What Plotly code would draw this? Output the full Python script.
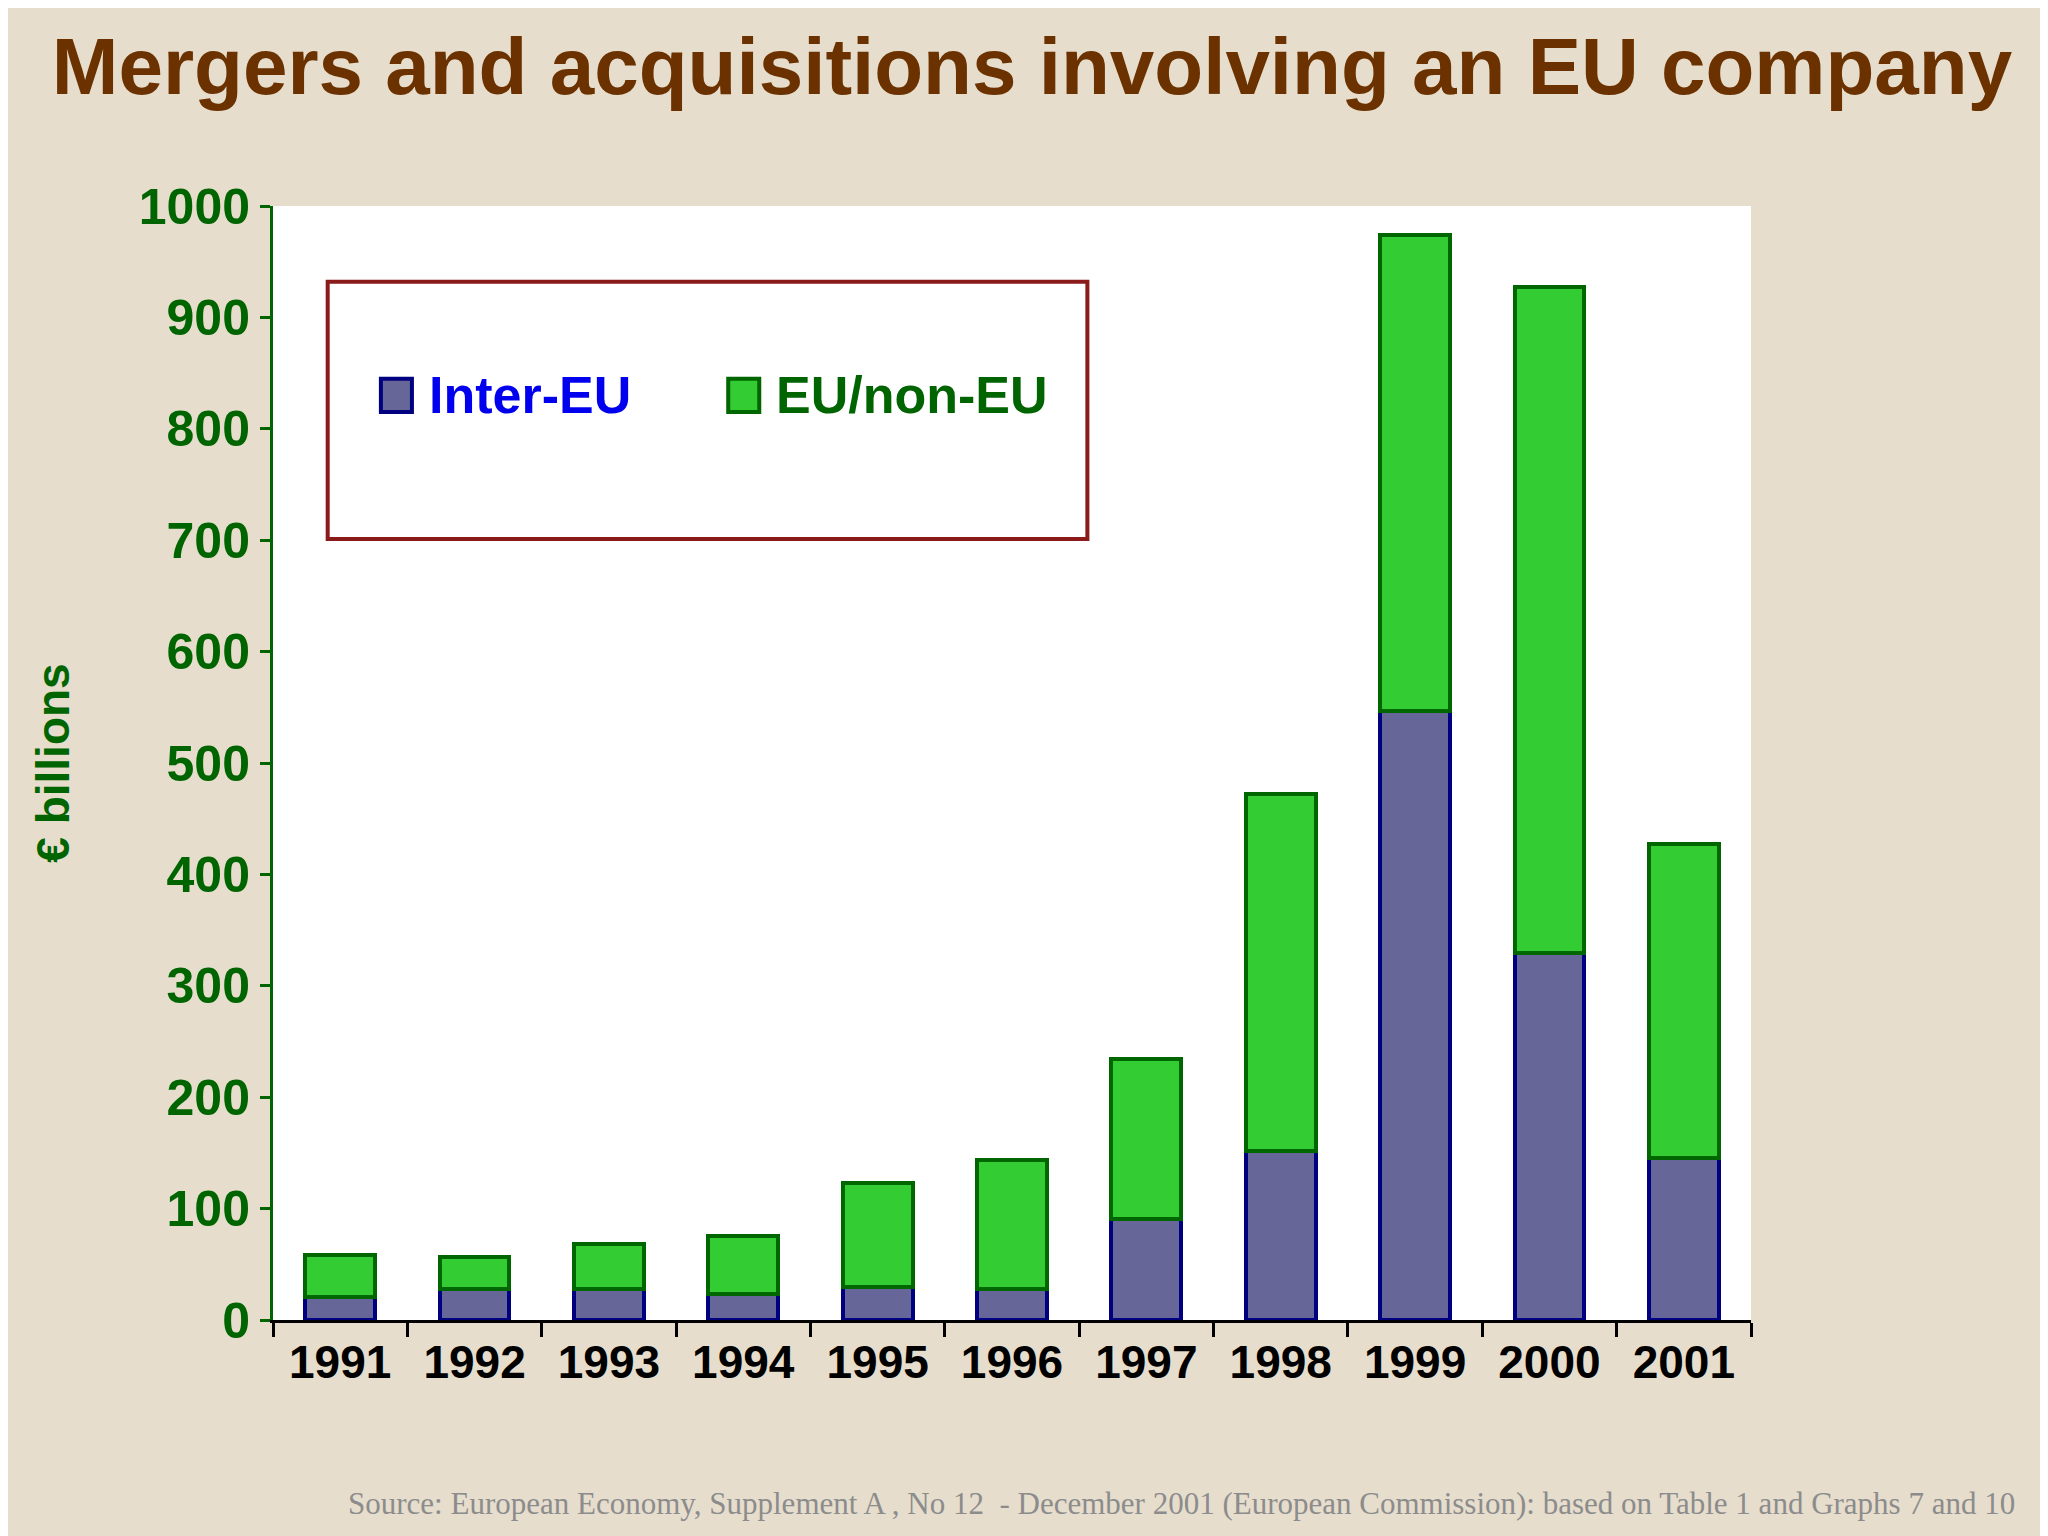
import plotly.graph_objects as go

years = ["1991","1992","1993","1994","1995","1996","1997","1998","1999","2000","2001"]
inter_eu = [21, 28, 28, 23, 30, 28, 91, 152, 547, 329, 145]
totals = [58, 57, 68, 75, 123, 144, 234, 472, 974, 927, 427]
eu_non_eu = [t - i for t, i in zip(totals, inter_eu)]

fig = go.Figure()
fig.add_bar(x=years, y=inter_eu, name="Inter-EU", marker=dict(color="#666699", line=dict(color="#000080", width=4)), width=0.52)
fig.add_bar(x=years, y=eu_non_eu, name="EU/non-EU", marker=dict(color="#33cc33", line=dict(color="#006600", width=4)), width=0.52)

fig.update_layout(
    barmode="stack", showlegend=False,
    width=2048, height=1536,
    margin=dict(l=265, r=305, t=198, b=224),
    paper_bgcolor="#e6ddcc", plot_bgcolor="white",
    font=dict(family="Liberation Sans, Arial", color="#006400"),
    title=dict(text="<b>Mergers and acquisitions involving an EU company</b>", x=0.5, xanchor="center", y=0.962, yanchor="middle",
               font=dict(size=80, color="#6b3200")),
    xaxis=dict(showline=True, linecolor="black", linewidth=3, ticks="outside", tickson="boundaries", ticklen=14,
               tickwidth=3, tickcolor="black", tickfont=dict(size=46, color="black"),
               tickprefix="<b>", ticksuffix="</b>"),
    yaxis=dict(range=[0, 1000], dtick=100, showgrid=False, showline=True, linecolor="#006400", linewidth=3,
               ticks="outside", ticklen=10, tickwidth=3, tickcolor="#006400",
               tickfont=dict(size=50, color="#006400"), tickprefix="<b>", ticksuffix="</b>",
               title=dict(text="<b>€ billions</b>", font=dict(size=46, color="#006400"), standoff=55)),
)
fig.add_shape(type="rect", xref="paper", yref="paper", x0=0.037, x1=0.551, y0=0.701, y1=0.932,
              line=dict(color="#8b1a1a", width=4), fillcolor="white")
fig.add_shape(type="rect", xref="paper", yref="paper", x0=0.073, x1=0.094, y0=0.815, y1=0.845,
              line=dict(color="#000080", width=4), fillcolor="#666699")
fig.add_shape(type="rect", xref="paper", yref="paper", x0=0.308, x1=0.329, y0=0.815, y1=0.845,
              line=dict(color="#006600", width=4), fillcolor="#33cc33")
fig.add_annotation(xref="paper", yref="paper", x=0.104, y=0.83, xanchor="left", yanchor="middle", showarrow=False,
                   text="<b>Inter-EU</b>", font=dict(size=52, color="#0000ee"))
fig.add_annotation(xref="paper", yref="paper", x=0.339, y=0.83, xanchor="left", yanchor="middle", showarrow=False,
                   text="<b>EU/non-EU</b>", font=dict(size=52, color="#006400"))
fig.add_annotation(xref="paper", yref="paper", x=1.18, y=-0.165, xanchor="right", yanchor="middle", showarrow=False,
                   text="Source: European Economy, Supplement A , No 12  - December 2001 (European Commission): based on Table 1 and Graphs 7 and 10",
                   font=dict(size=31, color="#8c8c8c", family="Liberation Serif"))
fig.write_html("out.html")
